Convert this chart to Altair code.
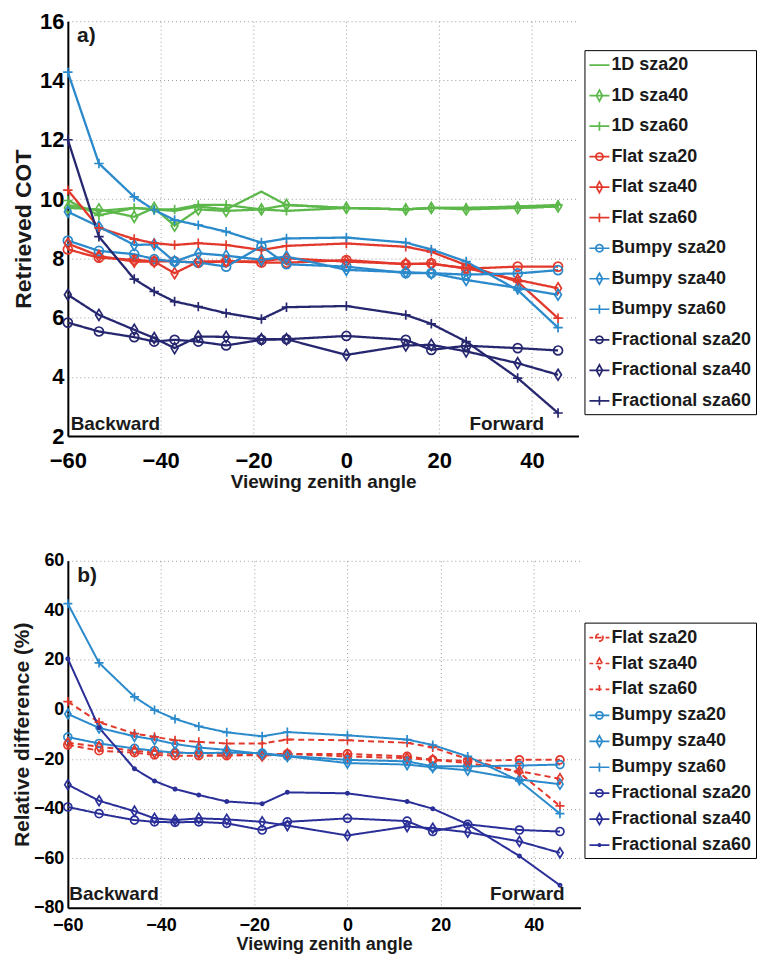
import altair as alt
import pandas as pd

# ---------------- data ----------------
ANGLES = [-60, -53.3, -45.7, -41.4, -37, -31.9, -25.9, -18.3, -12.9, 0, 12.8, 18.3, 25.8, 36.9, 45.6]

TOP_NAMES = ["1D sza20", "1D sza40", "1D sza60", "Flat sza20", "Flat sza40", "Flat sza60",
             "Bumpy sza20", "Bumpy sza40", "Bumpy sza60",
             "Fractional sza20", "Fractional sza40", "Fractional sza60"]
top_1d_20 = [9.8, 9.6, 9.7, 9.65, 9.6, 9.75, 9.65, 10.25, 9.8, 9.7, 9.65, 9.7, 9.7, 9.7, 9.75]
top_1d_40 = [9.7, 9.65, 9.4, 9.7, 9.1, 9.65, 9.6, 9.65, 9.8, 9.7, 9.65, 9.7, 9.65, 9.7, 9.75]
top_1d_60 = [9.95, 9.45, 9.7, 9.65, 9.65, 9.8, 9.8, 9.65, 9.6, 9.7, 9.65, 9.7, 9.7, 9.75, 9.8]
top_flat_20 = [8.3, 8.02, 7.95, 7.9, 7.9, 7.85, 7.9, 7.86, 7.85, 7.94, 7.8, 7.83, 7.65, 7.72, 7.72]
top_flat_40 = [8.5, 8.08, 7.89, 7.89, 7.5, 7.89, 7.9, 7.9, 8.0, 7.89, 7.81, 7.81, 7.67, 7.27, 6.99]
top_flat_60 = [10.3, 9.03, 8.65, 8.51, 8.45, 8.51, 8.45, 8.28, 8.42, 8.5, 8.39, 8.22, 7.77, 7.21, 5.98]
top_bumpy_20 = [8.6, 8.25, 8.14, 7.97, 7.89, 7.86, 7.72, 8.4, 7.8, 7.72, 7.5, 7.5, 7.45, 7.49, 7.6]
top_bumpy_40 = [9.57, 9.07, 8.45, 8.47, 7.89, 8.17, 8.09, 7.95, 8.06, 7.61, 7.53, 7.5, 7.27, 7.0, 6.77]
top_bumpy_60 = [14.28, 11.2, 10.07, 9.63, 9.29, 9.12, 8.9, 8.53, 8.67, 8.7, 8.53, 8.3, 7.89, 6.93, 5.66]
top_frac_20 = [5.83, 5.53, 5.34, 5.19, 5.25, 5.19, 5.06, 5.25, 5.27, 5.38, 5.25, 4.91, 5.05, 4.97, 4.89]
top_frac_40 = [6.77, 6.09, 5.59, 5.31, 4.97, 5.36, 5.35, 5.27, 5.27, 4.74, 5.06, 5.08, 4.86, 4.46, 4.07]
top_frac_60 = [12.0, 8.73, 7.3, 6.88, 6.54, 6.37, 6.15, 5.95, 6.35, 6.39, 6.09, 5.79, 5.19, 3.96, 2.78]
TOP_SERIES = [top_1d_20, top_1d_40, top_1d_60, top_flat_20, top_flat_40, top_flat_60,
              top_bumpy_20, top_bumpy_40, top_bumpy_60, top_frac_20, top_frac_40, top_frac_60]
TOP_MARKERS = ["none", "diamond", "plus", "circle", "diamond", "plus",
               "circle", "diamond", "plus", "circle", "diamond", "plus"]

BOT_NAMES = ["Flat sza20", "Flat sza40", "Flat sza60", "Bumpy sza20", "Bumpy sza40", "Bumpy sza60",
             "Fractional sza20", "Fractional sza40", "Fractional sza60"]
bot_flat_20 = [-14.3, -16.6, -17.4, -18.3, -18.6, -18.6, -18.6, -18.3, -17.9, -17.9, -18.9, -20.3, -20.7, -20.3, -20.3]
bot_flat_40 = [-13.4, -15.0, -16.6, -17.4, -17.4, -17.6, -17.9, -18.7, -17.9, -18.9, -19.6, -20.3, -21.6, -24.9, -27.9]
bot_flat_60 = [3.2, -5.1, -9.7, -11.0, -12.4, -13.0, -13.7, -13.7, -12.1, -12.4, -13.4, -15.3, -20.0, -25.5, -38.9]
bot_bumpy_20 = [-11.1, -13.7, -15.7, -16.6, -17.4, -17.6, -17.4, -17.6, -18.7, -20.3, -20.9, -22.9, -22.9, -22.6, -22.2]
bot_bumpy_40 = [-1.8, -7.4, -10.8, -12.1, -13.9, -15.3, -16.3, -17.9, -18.9, -21.6, -22.2, -23.3, -24.5, -28.2, -30.1]
bot_bumpy_60 = [42.7, 18.8, 5.1, -0.2, -3.8, -6.8, -9.2, -10.8, -9.1, -10.4, -12.1, -14.3, -18.9, -28.8, -42.0]
bot_frac_20 = [-39.3, -42.0, -44.6, -45.3, -45.5, -45.3, -45.9, -48.6, -45.3, -43.9, -45.0, -49.2, -46.3, -48.6, -49.2]
bot_frac_40 = [-30.3, -36.8, -41.0, -43.9, -44.6, -43.9, -44.3, -45.3, -46.8, -50.8, -47.2, -47.9, -49.5, -53.2, -57.8]
bot_frac_60 = [20.5, -7.3, -23.9, -28.8, -32.1, -34.5, -37.1, -38.0, -33.4, -33.8, -37.1, -40.0, -46.3, -59.1, -70.9]
BOT_SERIES = [bot_flat_20, bot_flat_40, bot_flat_60, bot_bumpy_20, bot_bumpy_40, bot_bumpy_60,
              bot_frac_20, bot_frac_40, bot_frac_60]
BOT_MARKERS = ["circle", "diamond", "plus", "circle", "diamond", "plus", "circle", "diamond", "dot"]

X_TICKS = [-60, -40, -20, 0, 20, 40]
TOP_Y_TICKS = [2, 4, 6, 8, 10, 12, 14, 16]
BOT_Y_TICKS = [-80, -60, -40, -20, 0, 20, 40, 60]

TOP_NOTES = ["a)", "Backward", "Forward"]
TOP_NOTE_X = [-58, -59.4, 42.6]
TOP_NOTE_Y = [15.3, 2.2, 2.2]
BOT_NOTES = ["b)", "Backward", "Forward"]
BOT_NOTE_X = [-58, -59.7, 46.6]
BOT_NOTE_Y = [51.5, -77.0, -77.0]
NOTE_ALIGN = ["left", "left", "right"]
NOTE_SIZE = [21, 19, 19]

# ---------------- styles ----------------
GREEN, RED, BLUE = "#5cb84a", "#e2392c", "#2b8acb"
NAVY_TOP, NAVY_BOT = "#26276f", "#2a2f98"
TOP_COLORS = [GREEN] * 3 + [RED] * 3 + [BLUE] * 3 + [NAVY_TOP] * 3
BOT_COLORS = [RED] * 3 + [BLUE] * 3 + [NAVY_BOT] * 3
BOT_DASHES = [[6, 4]] * 3 + [[1, 0]] * 6
TOP_DASHES = [[1, 0]] * 12

FONT = "Liberation Sans, Arial, sans-serif"

PLOT_PATH = {
    "circle": "M1,0A1,1,0,1,1,-1,0A1,1,0,1,1,1,0Z",
    "diamond": "M0,-1L0.62,0L0,1L-0.62,0Z",
    "plus": "M-1,0L1,0M0,-1L0,1",
    "dot": "M0.5,0A0.5,0.5,0,1,1,-0.5,0A0.5,0.5,0,1,1,0.5,0Z",
}
SOLID = "M-1,0L1,0"
DASHED = "M-1,0L-0.62,0M-0.38,0L0.38,0M0.62,0L1,0"
LEG_MARK = {
    "none": "",
    "circle": "M0.36,0A0.36,0.36,0,1,1,-0.36,0A0.36,0.36,0,1,1,0.36,0Z",
    "diamond": "M0,-0.55L0.3,0L0,0.55L-0.3,0Z",
    "plus": "M0,-0.45L0,0.45",
    "dot": "M0.12,0A0.12,0.12,0,1,1,-0.12,0A0.12,0.12,0,1,1,0.12,0ZM0.05,0A0.05,0.05,0,1,1,-0.05,0A0.05,0.05,0,1,1,0.05,0Z",
}


def long_frame(names, series, markers):
    rows = []
    for name, vals, mk in zip(names, series, markers):
        for a, v in zip(ANGLES, vals):
            rows.append({"angle": a, "value": v, "series": name, "marker": mk})
    return pd.DataFrame(rows)


def panel(names, series, markers, colors, dashes, ydom, yticks, ytitle, width, height,
          tick_font, ytitle_font, ytitle_pad, xlab_pad, xtitle_pad, xtitle_font,
          leg_x, leg_y, leg_font, leg_row, msize, line_w, notes, nx, ny, dashed_legend):
    df = long_frame(names, series, markers)
    xs = alt.X("angle:Q", scale=alt.Scale(domain=[-60, 50], nice=False, zero=False),
               axis=alt.Axis(values=X_TICKS, title="Viewing zenith angle", format="d",
                             labelFlush=False,
                             grid=True, gridDash=[1, 3], gridColor="#9a9a9a", gridWidth=1,
                             domainColor="black", domainWidth=2, ticks=False,
                             labelFont=FONT, labelFontSize=tick_font, labelFontWeight="bold",
                             labelColor="black", labelPadding=xlab_pad,
                             titleFont=FONT, titleFontSize=xtitle_font, titleFontWeight="bold",
                             titleColor="#1a1a1a", titlePadding=xtitle_pad))
    ys = alt.Y("value:Q", scale=alt.Scale(domain=ydom, nice=False, zero=False),
               axis=alt.Axis(values=yticks, title=ytitle, format="d", labelFlush=False,
                             grid=True, gridDash=[1, 3], gridColor="#9a9a9a", gridWidth=1,
                             domainColor="black", domainWidth=2, ticks=False,
                             labelFont=FONT, labelFontSize=tick_font, labelFontWeight="bold",
                             labelColor="black", labelPadding=4,
                             titleFont=FONT, titleFontSize=ytitle_font,
                             titleFontWeight="bold", titleColor="#1a1a1a", titlePadding=ytitle_pad))
    cscale = alt.Scale(domain=names, range=colors)
    base = alt.Chart(df)

    # legend-carrying layer first (invisible marks, visible legend)
    leg_paths = []
    for name, mk in zip(names, markers):
        lp = DASHED if (dashed_legend and name.startswith("Flat")) else SOLID
        leg_paths.append(lp + LEG_MARK[mk])
    leg = alt.Legend(orient="none", legendX=leg_x, legendY=leg_y, title=None,
                     strokeColor="black", fillColor="white", padding=4, cornerRadius=0,
                     labelFont=FONT, labelFontSize=leg_font, labelFontWeight="bold",
                     labelColor="#1a1a1a", labelOffset=1, labelLimit=400,
                     symbolSize=400, symbolStrokeWidth=1.7, symbolOpacity=1,
                     symbolFillColor="transparent", rowPadding=leg_row)
    legend_layer = base.mark_point(opacity=0, filled=False).encode(
        x=xs, y=ys,
        color=alt.Color("series:N", scale=cscale, legend=leg),
        shape=alt.Shape("series:N", scale=alt.Scale(domain=names, range=leg_paths), legend=leg),
    )
    layers = [legend_layer]

    lines = base.mark_line(strokeWidth=line_w).encode(
        x=xs, y=ys,
        color=alt.Color("series:N", scale=cscale, legend=None),
        strokeDash=alt.StrokeDash("series:N", scale=alt.Scale(domain=names, range=dashes), legend=None),
    )
    layers.append(lines)
    for mk in ["circle", "diamond", "plus", "dot"]:
        sub = df[df["marker"] == mk]
        if len(sub):
            layers.append(alt.Chart(sub).mark_point(shape=PLOT_PATH[mk], size=msize[mk], filled=False,
                                                   strokeWidth=1.7 if mk != "dot" else 3.0,
                                                   opacity=1).encode(
                x=xs, y=ys, color=alt.Color("series:N", scale=cscale, legend=None)))

    ndf = pd.DataFrame({"text": notes, "angle": nx, "value": ny, "align": NOTE_ALIGN, "size": NOTE_SIZE})
    for i in range(len(ndf)):
        s = ndf.iloc[[i]]
        layers.append(alt.Chart(s).mark_text(align=s["align"].iloc[0], baseline="alphabetic", font=FONT,
                                             fontSize=int(s["size"].iloc[0]), fontWeight="bold",
                                             color="#1a1a1a").encode(
            x=xs, y=ys, text="text:N"))
    return alt.layer(*layers).properties(width=width, height=height)


top = panel(TOP_NAMES, TOP_SERIES, TOP_MARKERS, TOP_COLORS, TOP_DASHES, [2, 16], TOP_Y_TICKS,
            "Retrieved COT", 512, 416, 22, 23, 4, 14, 2, 19, 518, 29, 18, 10.6,
            {"circle": 81, "diamond": 121, "plus": 90}, 2.3, TOP_NOTES, TOP_NOTE_X, TOP_NOTE_Y, False)
bottom = panel(BOT_NAMES, BOT_SERIES, BOT_MARKERS, BOT_COLORS, BOT_DASHES, [-80, 60], BOT_Y_TICKS,
               "Relative difference (%)", 514, 348, 18, 21, 1, 9, 1, 18, 518, 62, 18, 6,
               {"circle": 64, "diamond": 100, "plus": 81, "dot": 16}, 2.0,
               BOT_NOTES, BOT_NOTE_X, BOT_NOTE_Y, True)

chart = alt.vconcat(top, bottom, spacing=60).resolve_scale(
    color="independent", shape="independent", strokeDash="independent"
).resolve_legend(color="independent", shape="independent").properties(
    padding={"left": 3, "top": 1, "right": 0, "bottom": 0}
).configure_view(stroke=None)

chart.save("out.html", embed_options={"renderer": "svg", "actions": False})
